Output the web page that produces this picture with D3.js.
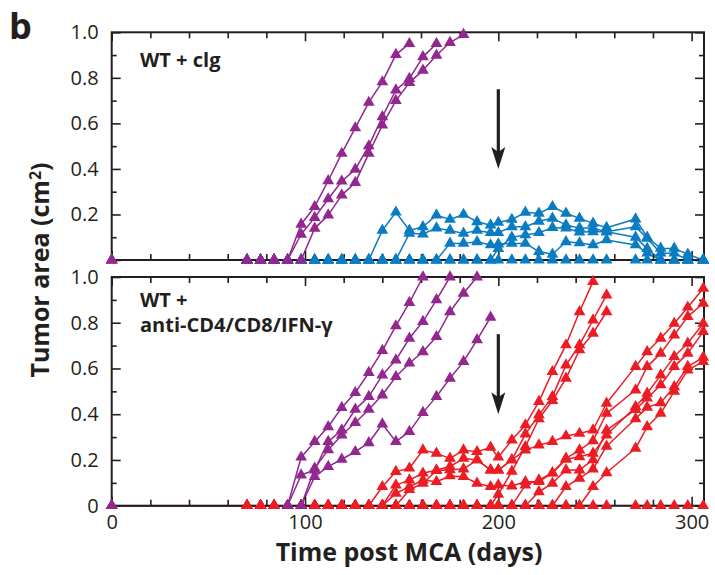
<!DOCTYPE html>
<html><head><meta charset="utf-8">
<script src="https://cdn.jsdelivr.net/npm/d3@7"></script>
<style>
body{margin:0;background:#fff}
svg{display:block}
text{font-family:'Open Sans',sans-serif;fill:#231f20}
</style>
</head><body>
<svg id="chart" width="715" height="575"></svg>
<script>
// ---------- DATA ----------
const days = [0,70,77,84,91,98,105,112,119,126,133,140,147,154,161,168,175,182,189,196,200,207,214,221,228,235,242,249,256,271,277,284,291,298,306];
const N = null;
const xTicksMajor = [0,100,200,300];
const xTicksMinor = [20,40,60,80,120,140,160,180,220,240,260,280];
const yTicksMajor = [0,0.2,0.4,0.6,0.8,1.0];
const yTicksMinor = [0.1,0.3,0.5,0.7,0.9];
const panelLabels = [["WT + clg"],["WT +","anti-CD4/CD8/IFN-\u03b3"]];
const arrowDay = 200, arrowFrom = 0.75, arrowTo = 0.40;

// Top panel (WT + clg): purple = progressors, blue = stable
const topPurple1 = [0,0,0,0,0,0.157,0.234,0.348,0.468,0.58,0.692,0.782,0.902,0.95,N,N,N,N,N,N,N,N,N,N,N,N,N,N,N,N,N,N,N,N,N];
const topPurple2 = [0,0,0,0,0,0.113,0.186,0.268,0.346,0.398,0.501,0.629,0.746,0.797,0.892,0.95,N,N,N,N,N,N,N,N,N,N,N,N,N,N,N,N,N,N,N];
const topPurple3 = [0,0,0,0,0,0,0.139,0.197,0.285,0.34,0.468,0.592,0.70,0.779,0.833,0.899,0.955,0.99,N,N,N,N,N,N,N,N,N,N,N,N,N,N,N,N,N];
const topBlue0 = [N,0,0,0,0,0,0,0,0,0,0,0,0,0,0,0,0,0,0,0,0,0,0,0,0,0,0,0,0,0,0,0,0,0,0];
const topBlueA = [N,0,0,0,0,0,0,0,0,0,0,0.13,0.21,0.13,0.146,0.197,0.178,0.2,0.168,0.153,0.165,0.178,0.209,0.205,0.234,0.205,0.183,0.161,0.142,0.18,0.1,0.051,0.051,0.025,0];
const topBlueB = [N,0,0,0,0,0,0,0,0,0,0,0,0,0.117,0.114,0.14,0.13,0.117,0.13,0.12,0.12,0.146,0.146,0.17,0.183,0.154,0.14,0.14,0.124,0.146,0.095,0.03,0.03,0,0];
const topBlueC = [N,0,0,0,0,0,0,0,0,0,0,0,0,0,0,0,0,0,0,0,0.05,0.1,0.11,0.12,0.142,0.14,0.123,0.124,0.124,0.1,0.05,0,0,0,0];
const topBlueD = [N,0,0,0,0,0,0,0,0,0,0,0,0,0,0,0,0.073,0.073,0.08,0.066,0.07,0.073,0.073,0.037,0.025,0.08,0.075,0.066,0.088,0.066,0.03,0,0,0,0];

// Bottom panel (WT + anti-CD4/CD8/IFN-g): purple = progressors, red = escaped after treatment
const botPurple1 = [0,N,N,N,0,0.212,0.28,0.345,0.429,0.494,0.582,0.678,0.786,0.888,1.0,N,N,N,N,N,N,N,N,N,N,N,N,N,N,N,N,N,N,N,N];
const botPurple2 = [0,N,N,N,0,0.134,0.156,0.28,0.331,0.421,0.477,0.571,0.637,0.732,0.805,0.9,1.0,N,N,N,N,N,N,N,N,N,N,N,N,N,N,N,N,N,N];
const botPurple3 = [0,N,N,N,0,0,0.164,0.244,0.309,0.363,0.421,0.484,0.564,0.623,0.673,0.739,0.848,0.929,1.0,N,N,N,N,N,N,N,N,N,N,N,N,N,N,N,N];
const botPurple4 = [0,N,N,N,0,0,0.127,0.171,0.203,0.236,0.275,0.357,0.28,0.324,0.407,0.477,0.557,0.63,0.725,0.824,N,N,N,N,N,N,N,N,N,N,N,N,N,N,N];
const botRed0 = [N,0,0,0,0,0,0,0,0,0,0,0,0,0,0,0,0,0,0,0,0,0,0,0,0,0,0,0,0,0,0,0,0,0,0];
const botRedA = [N,0,0,0,0,0,0,0,0,0,0,0.083,0.149,0.164,0.243,0.229,0.207,0.243,0.236,0.255,0.212,0.287,0.353,0.455,0.586,0.703,0.848,0.98,N,N,N,N,N,N,N];
const botRedB = [N,0,0,0,0,0,0,0,0,0,0,0,0.09,0.112,0.142,0.156,0.171,0.207,0.2,0.156,0.156,0.2,0.313,0.397,0.477,0.615,0.703,0.812,0.921,N,N,N,N,N,N];
const botRedC = [N,0,0,0,0,0,0,0,0,0,0,0,0,0,0,0,0,0,0,0,0.05,0.15,0.258,0.38,0.46,0.557,0.681,0.754,0.848,N,N,N,N,N,N];
const botRedD = [N,0,0,0,0,0,0,0,0,0,0,0,0,0.07,0.098,0.153,0.157,0.16,0.2,0.156,0.156,0.2,0.243,0.265,0.28,0.305,0.316,0.331,0.448,0.608,0.673,0.732,0.797,0.868,0.95];
const botRedE = [N,0,0,0,0,0,0,0,0,0,0,0,0.054,0.083,0.112,0.105,0.13,0.127,0.098,0.083,0.09,0.086,0.105,0.105,0.142,0.203,0.214,0.229,0.309,0.433,0.491,0.571,0.652,0.71,0.797];
const botRedF = [N,0,0,0,0,0,0,0,0,0,0,0,0,0,0,0,0,0,0,0,0,0,0.09,0.112,0.144,0.207,0.243,0.284,0.404,0.506,0.608,0.666,0.746,0.827,0.885];
const botRedG = [N,0,0,0,0,0,0,0,0,0,0,0,0,0,0,0,0,0,0,0,0,0,0,0.061,0.098,0.156,0.156,0.2,0.33,0.42,0.47,0.528,0.608,0.666,0.761];
const botRedH = [N,0,0,0,0,0,0,0,0,0,0,0,0,0,0,0,0,0,0,0,0,0,0,0,0,0.083,0.12,0.16,0.26,0.38,0.43,0.45,0.52,0.608,0.649];
const botRedI = [N,0,0,0,0,0,0,0,0,0,0,0,0,0,0,0,0,0,0,0,0,0,0,0,0,0,0,0.083,0.144,0.251,0.345,0.404,0.5,0.593,0.63];

const PURPLE = "#92278f", BLUE = "#0a7cc2", RED = "#ec1c24", INK = "#231f20";

// series in drawing order (later drawn on top)
const topSeries = [
  {vals: topBlue0, c: BLUE},{vals: topBlueD, c: BLUE},{vals: topBlueC, c: BLUE},{vals: topBlueB, c: BLUE},{vals: topBlueA, c: BLUE},
  {vals: topPurple3, c: PURPLE},{vals: topPurple2, c: PURPLE},{vals: topPurple1, c: PURPLE}
];
const botSeries = [
  {vals: botRed0, c: RED},{vals: botRedI, c: RED},{vals: botRedH, c: RED},{vals: botRedG, c: RED},{vals: botRedF, c: RED},
  {vals: botRedE, c: RED},{vals: botRedD, c: RED},{vals: botRedC, c: RED},{vals: botRedB, c: RED},{vals: botRedA, c: RED},
  {vals: botPurple4, c: PURPLE},{vals: botPurple3, c: PURPLE},{vals: botPurple2, c: PURPLE},{vals: botPurple1, c: PURPLE}
];

// ---------- LAYOUT ----------
const svg = d3.select("#chart");
const x = d3.scaleLinear().domain([0, 306.4]).range([111.7, 704]);
const panels = [
  {top: 32.3, bottom: 260, series: topSeries, labels: panelLabels[0], labelY: 66.5, yLabels: [0.2,0.4,0.6,0.8,1.0], xLabels: false},
  {top: 277, bottom: 505.7, series: botSeries, labels: panelLabels[1], labelY: 306.5, yLabels: yTicksMajor, xLabels: true}
];
const fmtY = d => d === 0 ? "0" : d3.format(".1f")(d);
const tri = d3.symbol().type(d3.symbolTriangle).size(60);

panels.forEach(p => {
  const y = d3.scaleLinear().domain([0, 1]).range([p.bottom, p.top]);
  const g = svg.append("g");

  // lines
  const line = d3.line().x(d => x(d.t)).y(d => y(d.v));
  p.series.forEach(s => {
    const pts = days.map((t, i) => ({t, v: s.vals[i]})).filter(d => d.v !== null);
    g.append("path").datum(pts).attr("d", line).attr("fill", "none")
      .attr("stroke", s.c).attr("stroke-width", 1.5).attr("stroke-linejoin", "round");
  });

  // frame
  const [x0, x1] = x.range();
  g.append("rect").attr("x", x0).attr("y", p.top).attr("width", x1 - x0).attr("height", p.bottom - p.top)
    .attr("fill", "none").attr("stroke", INK).attr("stroke-width", 2);

  // ticks
  const axes = [
    [d3.axisLeft(y).tickValues(yTicksMajor).tickSize(-9).tickPadding(13).tickFormat(d => p.yLabels.includes(d) ? fmtY(d) : ""), `translate(${x0},0)`],
    [d3.axisLeft(y).tickValues(yTicksMinor).tickSize(-5).tickFormat(""), `translate(${x0},0)`],
    [d3.axisRight(y).tickValues(yTicksMajor).tickSize(-9).tickFormat(""), `translate(${x1},0)`],
    [d3.axisRight(y).tickValues(yTicksMinor).tickSize(-5).tickFormat(""), `translate(${x1},0)`],
    [d3.axisTop(x).tickValues(xTicksMajor).tickSize(-9).tickFormat(""), `translate(0,${p.top})`],
    [d3.axisTop(x).tickValues(xTicksMinor).tickSize(-6).tickFormat(""), `translate(0,${p.top})`],
    [d3.axisBottom(x).tickValues(xTicksMajor).tickSize(-9).tickPadding(9).tickFormat(d => p.xLabels ? d : ""), `translate(0,${p.bottom})`],
    [d3.axisBottom(x).tickValues(xTicksMinor).tickSize(-6).tickFormat(""), `translate(0,${p.bottom})`]
  ];
  axes.forEach(([ax, tr]) => {
    const a = g.append("g").attr("transform", tr).call(ax);
    a.select(".domain").remove();
    a.selectAll("line").attr("stroke", INK).attr("stroke-width", 1.6);
    a.selectAll("text").style("font-family", "'Open Sans',sans-serif").style("font-size", "20px").attr("fill", INK);
  });

  // markers
  p.series.forEach(s => {
    const pts = days.map((t, i) => ({t, v: s.vals[i]})).filter(d => d.v !== null);
    g.selectAll(null).data(pts).enter().append("path")
      .attr("d", tri).attr("transform", d => `translate(${x(d.t)},${y(d.v)})`).attr("fill", s.c);
  });

  // panel label
  p.labels.forEach((t, i) => {
    g.append("text").attr("x", 140).attr("y", p.labelY + i * 25).text(t)
      .style("font-size", "20px").style("font-weight", "700");
  });

  // arrow
  const ax = x(arrowDay), ya = y(arrowFrom), yb = y(arrowTo);
  g.append("line").attr("x1", ax).attr("x2", ax).attr("y1", ya).attr("y2", yb - 14)
    .attr("stroke", INK).attr("stroke-width", 3.2);
  g.append("path").attr("d", `M${ax},${yb} L${ax - 7},${yb - 22} L${ax},${yb - 17} L${ax + 7},${yb - 22} Z`).attr("fill", INK);
});

// axis titles
svg.append("text").attr("x", 409).attr("y", 561).attr("text-anchor", "middle")
  .style("font-size", "25px").style("font-weight", "700").text("Time post MCA (days)");
svg.append("text").attr("transform", "translate(49,270) rotate(-90)").attr("text-anchor", "middle")
  .style("font-size", "25px").style("font-weight", "700")
  .html('Tumor area (cm<tspan dy="-8" font-size="16px">2</tspan><tspan dy="8">)</tspan>');
svg.append("text").attr("x", 9).attr("y", 39).style("font-size", "36px").style("font-weight", "700").text("b");
</script>
</body></html>
